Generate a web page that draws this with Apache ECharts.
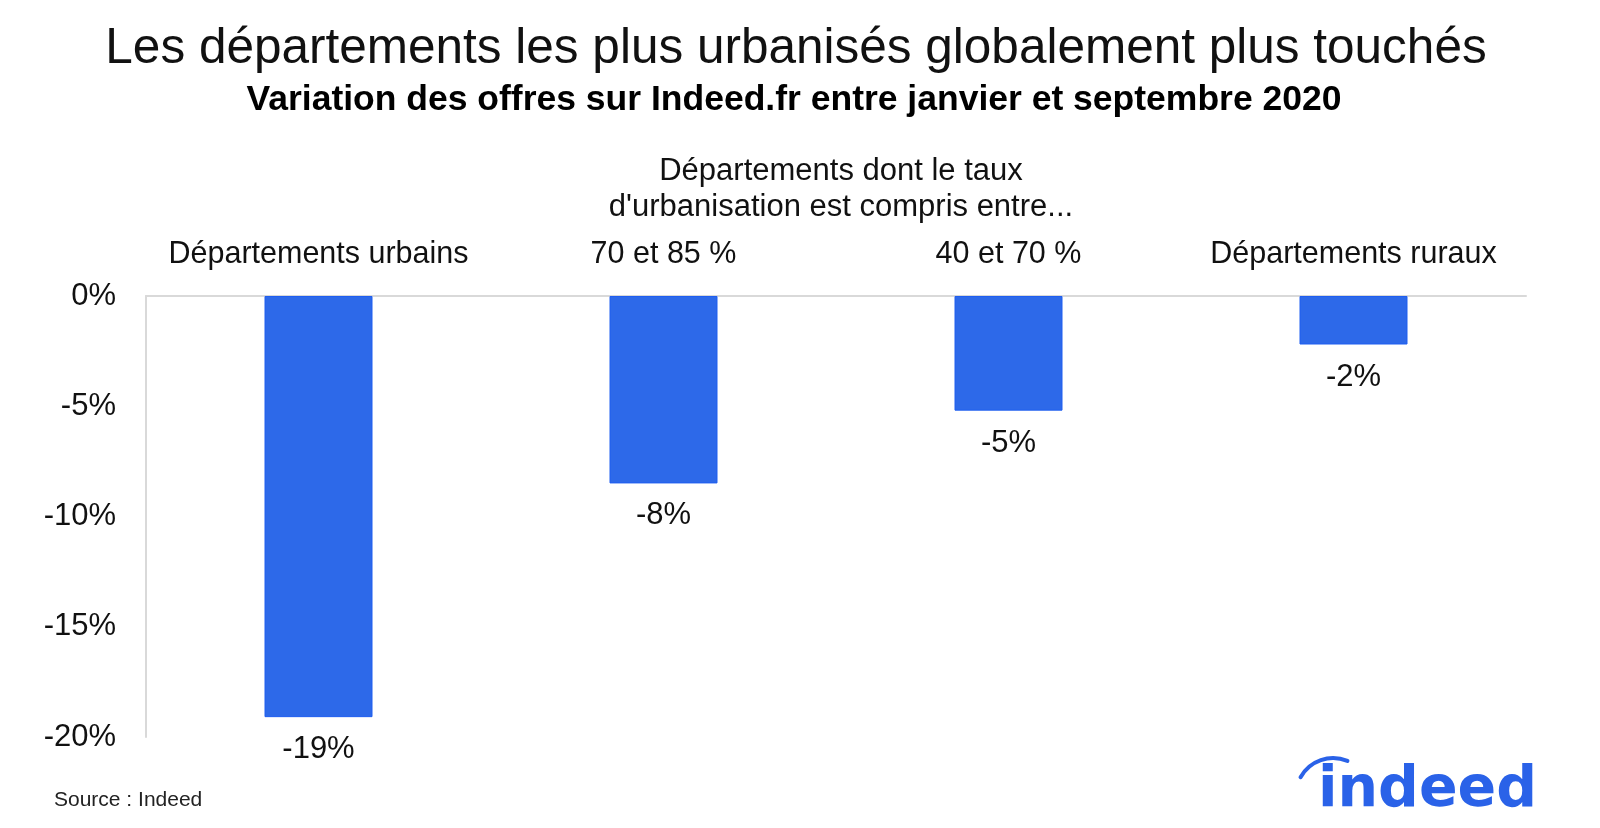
<!DOCTYPE html>
<html><head><meta charset="utf-8">
<script src="https://cdn.jsdelivr.net/npm/echarts@6/dist/echarts.min.js"></script>
<style>html,body{margin:0;padding:0;background:#fff}#c{width:1600px;height:828px}</style>
</head><body><div id="c"></div>
<script>
const categories = ['Départements urbains', '70 et 85 %', '40 et 70 %', 'Départements ruraux'];
const values = [-19.1, -8.5, -5.2, -2.2];
const yMin = -20, yMax = 0, yInterval = 5;

const FONT = "'Liberation Sans', Helvetica, Arial, sans-serif";
const chart = echarts.init(document.getElementById('c'), null, {renderer: 'canvas'});
chart.setOption({
  backgroundColor: '#ffffff',
  animation: false,
  textStyle: {fontFamily: FONT},
  grid: {left: 146, right: 74, top: 296, bottom: 91, containLabel: false},
  xAxis: {
    type: 'category', data: categories, position: 'top',
    axisLine: {show: true, lineStyle: {color: '#d9d9d9', width: 2}},
    axisTick: {show: false},
    axisLabel: {interval: 0, fontSize: 30.5, color: '#111', margin: 26, fontFamily: FONT}
  },
  yAxis: {
    type: 'value', min: yMin, max: yMax, interval: yInterval,
    axisLine: {show: true, lineStyle: {color: '#d9d9d9', width: 2}},
    axisTick: {show: false},
    splitLine: {show: false},
    axisLabel: {fontSize: 31, color: '#111', margin: 30, fontFamily: FONT, padding: [5, 0, 0, 0], formatter: v => v + '%'}
  },
  series: [{
    type: 'bar', data: values, barWidth: 108,
    itemStyle: {color: '#2d69e9', borderColor: '#1f5ef0', borderWidth: 1},
    label: {show: true, position: 'bottom', distance: 17, fontSize: 31, color: '#111', fontFamily: FONT,
      formatter: p => Math.round(p.value) + '%'}
  }],
  graphic: [
    {type: 'text', style: {x: 796, y: 49, text: 'Les départements les plus urbanisés globalement plus touchés', font: '49.5px ' + FONT, fill: '#111', textAlign: 'center', align: 'center', verticalAlign: 'middle', textVerticalAlign: 'middle'}},
    {type: 'text', style: {x: 794, y: 100, text: 'Variation des offres sur Indeed.fr entre janvier et septembre 2020', font: 'bold 35.5px ' + FONT, fill: '#000', textAlign: 'center', align: 'center', verticalAlign: 'middle', textVerticalAlign: 'middle'}},
    {type: 'text', style: {x: 841, y: 171, text: 'Départements dont le taux', font: '31px ' + FONT, fill: '#111', textAlign: 'center', align: 'center', verticalAlign: 'middle', textVerticalAlign: 'middle'}},
    {type: 'text', style: {x: 841, y: 207, text: "d'urbanisation est compris entre...", font: '31px ' + FONT, fill: '#111', textAlign: 'center', align: 'center', verticalAlign: 'middle', textVerticalAlign: 'middle'}},
    {type: 'text', style: {x: 54, y: 800, text: 'Source : Indeed', font: '21px ' + FONT, fill: '#222', textAlign: 'left', align: 'left', verticalAlign: 'middle', textVerticalAlign: 'middle'}},
    {type: 'text', style: {x: 1318, y: 791, text: 'indeed', font: 'bold 57px "DejaVu Sans", sans-serif', fill: '#2a62e8', textAlign: 'left', align: 'left', verticalAlign: 'middle', textVerticalAlign: 'middle'}},
    {type: 'arc', shape: {cx: 1333, cy: 795, r: 37, startAngle: -2.64, endAngle: -1.17, clockwise: true}, style: {stroke: '#2a62e8', lineWidth: 4, fill: null, lineCap: 'round'}}
  ]
});
</script>
</body></html>
